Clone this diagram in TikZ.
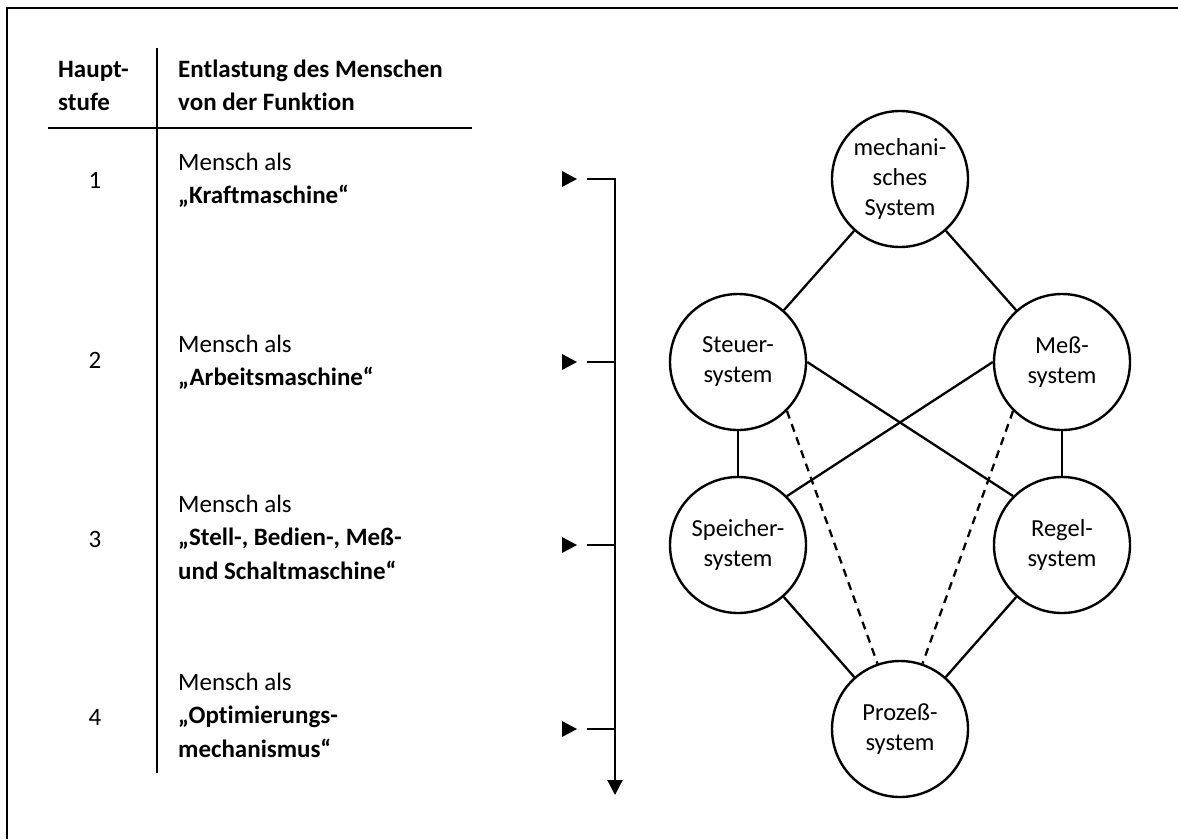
\documentclass[tikz,border=0pt]{standalone}
\usepackage{fontspec}
\setmainfont{Carlito}[Ligatures=CommonOff]
\usetikzlibrary{arrows.meta}
\newcommand{\tblock}[1]{\begin{tabular}[t]{@{}l@{}}#1\end{tabular}}
\begin{document}
\begin{tikzpicture}[x=1pt,y=-1pt,
  txt/.style={inner sep=0pt, anchor=base west, font=\fontsize{25}{33.5}\selectfont},
  num/.style={inner sep=0pt, anchor=base, font=\fontsize{25}{30}\selectfont},
  sys/.style={circle, draw, line width=2.4pt, minimum size=136pt, inner sep=0pt, align=center, font=\fontsize{24.5}{30}\selectfont},
  conn/.style={line width=2.3pt},
  dconn/.style={line width=2.3pt, dash pattern=on 8pt off 6pt},
  tabrule/.style={line width=2.3pt},
  frameline/.style={line width=2.5pt},
  marker/.style={fill=black},
]
\useasboundingbox (0,0) rectangle (1178,839);
% frame
\coordinate (fA) at (7,839);
\coordinate (fB) at (7,8);
\coordinate (fC) at (1178,8);
\draw[frameline] (fA) -- (fB) -- (fC);
% table
\coordinate (vt) at (157,48);
\coordinate (vb) at (157,773);
\coordinate (hl) at (48,128);
\coordinate (hr) at (472,128);
\draw[tabrule] (vt) -- (vb);
\draw[tabrule] (hl) -- (hr);
\node[txt] (h1) at (58,77) {\bfseries\tblock{Haupt-\\stufe}};
\node[txt] (h2) at (178,77) {\bfseries\tblock{Entlastung des Menschen\\von der Funktion}};
\node[num] (n1) at (95,188) {1};
\node[num] (n2) at (95,368) {2};
\node[num] (n3) at (95,547) {3};
\node[num] (n4) at (95,725) {4};
\node[txt] (r1) at (178,170) {\tblock{Mensch als\\\bfseries „Kraftmaschine“}};
\node[txt] (r2) at (178,352) {\tblock{Mensch als\\\bfseries „Arbeitsmaschine“}};
\node[txt] (r3) at (178,512) {\tblock{Mensch als\\\bfseries „Stell-, Bedien-, Meß-\\\bfseries und Schaltmaschine“}};
\node[txt] (r4) at (178,690) {\tblock{Mensch als\\\bfseries „Optimierungs-\\\bfseries mechanismus“}};
% markers and arrow
\foreach \i/\y in {1/179,2/362,3/545,4/729}{
  \coordinate (m\i) at (569.5,\y);
  \coordinate (a\i) at (587,\y);
  \coordinate (b\i) at (615,\y);
  \fill[marker] (m\i) ++(-7.5,-8) -- ++(15,8) -- ++(-15,8) -- cycle;
}
\coordinate (vend) at (615,795);
\draw[conn,-{Triangle[width=15pt,length=15pt]}] (a1) -- (b1) -- (vend);
\draw[conn] (a2) -- (b2);
\draw[conn] (a3) -- (b3);
\draw[conn] (a4) -- (b4);
% systems
\node[sys] (me) at (900,179) {mechani-\\sches\\System};
\node[sys] (st) at (738,362) {Steuer-\\system};
\node[sys] (ms) at (1062,362) {Meß-\\system};
\node[sys] (sp) at (738,545) {Speicher-\\system};
\node[sys] (rg) at (1062,545) {Regel-\\system};
\node[sys] (pr) at (900,729) {Prozeß-\\system};
\draw[conn] (me) -- (st);
\draw[conn] (me) -- (ms);
\draw[conn] (st) -- (sp);
\draw[conn] (ms) -- (rg);
\draw[conn] (st.0) -- (rg.135);
\draw[conn] (ms.180) -- (sp.45);
\draw[conn] (sp) -- (pr);
\draw[conn] (rg) -- (pr);
\draw[dconn] (st.-45) -- (pr.109);
\draw[dconn] (ms.225) -- (pr.71);
\end{tikzpicture}
\end{document}
